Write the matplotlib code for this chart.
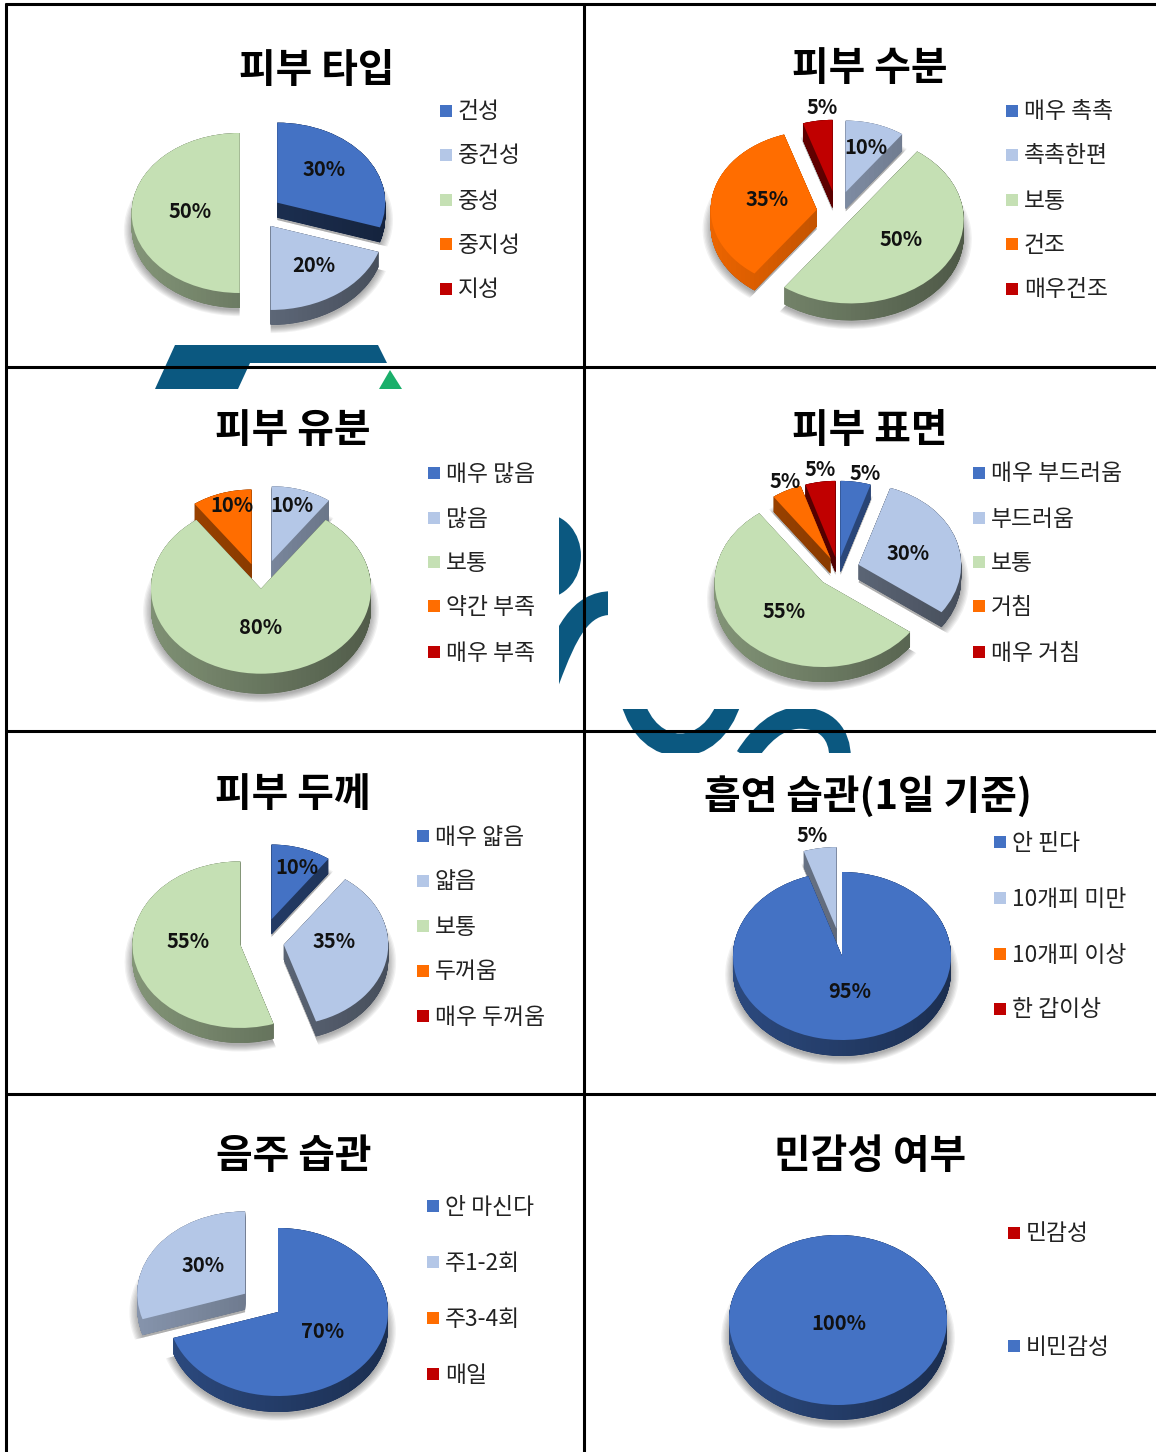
import matplotlib
matplotlib.use('Agg')
import matplotlib.pyplot as plt
import numpy as np
from matplotlib.colors import to_rgb
from matplotlib.patches import Ellipse, PathPatch, Polygon, Rectangle
from matplotlib.path import Path

plt.rcParams['font.family'] = ['Noto Sans CJK KR', 'DejaVu Sans']

W, H = 1156, 1452

BLUE = '#4472C4'
LIGHT = '#B4C7E7'
GREEN = '#C5E0B4'
ORANGE = '#FF6D00'
RED = '#C00000'
TEAL = '#0B5880'

type_labels = ['건성', '중건성', '중성', '중지성', '지성']
type_values = [30, 20, 50, 0, 0]

water_labels = ['매우 촉촉', '촉촉한편', '보통', '건조', '매우건조']
water_values = [0, 10, 50, 35, 5]

oil_labels = ['매우 많음', '많음', '보통', '약간 부족', '매우 부족']
oil_values = [0, 10, 80, 10, 0]

surface_labels = ['매우 부드러움', '부드러움', '보통', '거침', '매우 거침']
surface_values = [5, 30, 55, 5, 5]

thick_labels = ['매우 얇음', '얇음', '보통', '두꺼움', '매우 두꺼움']
thick_values = [10, 35, 55, 0, 0]

smoke_labels = ['안 핀다', '10개피 미만', '10개피 이상', '한 갑이상']
smoke_values = [95, 5, 0, 0]

drink_labels = ['안 마신다', '주1-2회', '주3-4회', '매일']
drink_values = [70, 30, 0, 0]

sensitive_labels = ['민감성', '비민감성']
sensitive_values = [0, 100]

five_colors = [BLUE, LIGHT, GREEN, ORANGE, RED]
four_colors = [BLUE, LIGHT, ORANGE, RED]
sens_colors = [RED, BLUE]

# title, labels, values, colours, pie box (cx, cy, rx, ry, depth), explode, radius,
# wall gain, title pos, legend marker x, legend ys, value label positions
panels = [
    ('피부 타입', type_labels, type_values, five_colors,
     (258, 213, 108, 80, 15), [.22, .2, .17, 0, 0], [1, 1.05, 1, 1, 1], [.8, 1, 1, 1, 1],
     (317, 68), 446, [110, 154, 199, 243, 288],
     [(324, 170), (314, 266), (190, 211)]),
    ('피부 수분', water_labels, water_values, five_colors,
     (837, 212, 113, 84, 17), [0, .25, .15, .18, .25], [1, .85, 1, .94, .85], [1, 1.35, 1, 1.4, .9],
     (870, 66), 1012, [110, 154, 199, 243, 288],
     [(866, 148), (901, 240), (767, 199), (822, 107)]),
    ('피부 유분', oil_labels, oil_values, five_colors,
     (261, 587, 110, 85, 20), [0, .32, .02, .28, 0], [1, .88, 1, .88, 1], [1, 1.3, 1, 1, 1],
     (293, 428), 434, [472, 517, 561, 605, 651],
     [(292, 506), (261, 627), (232, 506)]),
    ('피부 표면', surface_labels, surface_values, five_colors,
     (838, 570, 108, 85, 15), [.15, .2, .2, .15, .15], [.9, .95, 1, .9, .9], [1.2, 1, 1, 1, .8],
     (870, 428), 979, [472, 517, 561, 605, 651],
     [(865, 474), (908, 554), (784, 611), (785, 482), (820, 469)]),
    ('피부 두께', thick_labels, thick_values, five_colors,
     (262, 942, 110, 85, 15), [.28, .2, .2, 0, 0], [.88, .95, .98, 1, 1], [1, 1, 1, 1, 1],
     (293, 791), 423, [835, 880, 925, 970, 1015],
     [(297, 868), (334, 941), (188, 941)]),
    ('흡연 습관(1일 기준)', smoke_labels, smoke_values, four_colors,
     (842, 956, 109, 84, 16), [0, .33, 0, 0], [1, .97, 1, 1], [1, 1, 1, 1],
     (868, 794), 1000, [841, 897, 953, 1008],
     [(850, 991), (812, 835)]),
    ('음주 습관', drink_labels, drink_values, four_colors,
     (278, 1312, 110, 84, 16), [0, .37, 0, 0], [1, .98, 1, 1], [1, 1.1, 1, 1],
     (294, 1154), 433, [1205, 1261, 1317, 1373],
     [(323, 1331), (203, 1266)]),
    ('민감성 여부', sensitive_labels, sensitive_values, sens_colors,
     (838, 1320, 109, 85, 15), [0, 0], [1, 1], [1, 1],
     (870, 1154), 1014, [1232, 1345],
     [(839, 1323)]),
]

C4 = Path.CURVE4
strokes = [
    (Path([(632, 700), (648, 760), (712, 760), (730, 700)], [Path.MOVETO, C4, C4, C4]), 16.5, (600, 709, 150, 44)),
    (Path([(746, 757), (760, 735), (778, 718), (800, 718), (827, 718), (840, 735), (840, 757)],
          [Path.MOVETO, C4, C4, C4, C4, C4, C4]), 15.5, (730, 709, 125, 44)),
    (Path([(548, 680), (566, 632), (580, 603), (612, 603)], [Path.MOVETO, C4, C4, C4]), 17, (559, 580, 49, 105)),
]


def draw_pie(fig, box, values, colors, explode, radii, gains):
    cx, cy, rx, ry, depth = box
    span = 1.7
    ax = fig.add_axes([(cx - span * rx) / W, 1 - (cy + span * ry) / H,
                       2 * span * rx / W, 2 * span * ry / H], zorder=2)
    keep = [i for i, v in enumerate(values) if v > 0]
    vals = [values[i] for i in keep]
    cols = [colors[i] for i in keep]
    expl = [explode[i] for i in keep]
    rads = [radii[i] for i in keep]
    gain = [gains[i] for i in keep]

    # back slices go first so the front ones cover their walls
    edges = np.cumsum([0] + vals) / sum(vals) * 2 * np.pi
    mids = (edges[:-1] + edges[1:]) / 2
    order = np.argsort(np.argsort(-np.cos(mids)))

    z_depth = depth / ry
    # soft shadow
    for k in range(7):
        wedges, _ = ax.pie(vals, explode=expl, colors=['#000000'] * len(vals),
                           startangle=90, counterclock=False,
                           center=(0, -z_depth - .03),
                           wedgeprops={'alpha': .05, 'linewidth': 0})
        for i, w in enumerate(wedges):
            w.set_radius(rads[i] + .012 * k)
            w.set_zorder(1)

    walls = [[] for _ in vals]
    for z in np.linspace(z_depth, 0, int(depth * 2)):
        wedges, _ = ax.pie(vals, explode=expl, startangle=90, counterclock=False,
                           colors=[tuple(.5 * c for c in to_rgb(col)) for col in cols],
                           center=(0, -z), wedgeprops={'linewidth': 0})
        for i, w in enumerate(wedges):
            w.set_radius(rads[i])
            w.set_zorder(3 + order[i])
            walls[i].append(w.get_path())

    # wall shading runs from light on the left to dark on the right
    for i, col in enumerate(cols):
        shade = np.linspace(.68, .38, 64)[None, :, None] * np.array(to_rgb(col))[None, None, :]
        im = ax.imshow(np.clip(shade * gain[i], 0, 1), extent=(-1.3, 1.3, -2, 2), aspect='auto',
                       zorder=3 + order[i] + .4)
        im.set_clip_path(Path.make_compound_path(*walls[i]), ax.transData)

    tops, _ = ax.pie(vals, explode=expl, colors=cols, startangle=90, counterclock=False,
                     wedgeprops={'linewidth': 0})
    for i, w in enumerate(tops):
        w.set_radius(rads[i])
        w.set_zorder(3 + order[i] + .7)

    ax.set_aspect('auto')
    ax.set_xlim(-span, span)
    ax.set_ylim(-span, span)
    ax.patch.set_visible(False)


fig = plt.figure(figsize=(W / 100, H / 100), dpi=100)

back = fig.add_axes([0, 0, 1, 1], zorder=1)
back.set_xlim(0, W)
back.set_ylim(H, 0)
back.axis('off')

# bits of a logo that show through behind the pasted charts
back.add_patch(Polygon([(175, 345), (378, 345), (387, 363), (250, 363), (238, 389), (155, 389)],
                       closed=True, facecolor=TEAL, edgecolor='none'))
back.add_patch(Polygon([(390, 370), (402, 389), (379, 389)], closed=True,
                       facecolor='#1AAF6A', edgecolor='none'))
blob = Ellipse((545, 556), 72, 84, facecolor=TEAL, edgecolor='none')
back.add_patch(blob)
blob.set_clip_path(Rectangle((559, 500), 40, 110, transform=back.transData))
for path, lw, clip in strokes:
    patch = PathPatch(path, facecolor='none', edgecolor=TEAL, lw=lw, capstyle='butt')
    back.add_patch(patch)
    patch.set_clip_path(Rectangle(clip[:2], clip[2], clip[3], transform=back.transData))

for title, labels, values, colors, box, explode, radii, gains, title_xy, mark_x, legend_y, value_xy in panels:
    draw_pie(fig, box, values, colors, explode, radii, gains)

over = fig.add_axes([0, 0, 1, 1], zorder=5)
over.set_xlim(0, W)
over.set_ylim(H, 0)
over.axis('off')
over.patch.set_visible(False)

for x in [6, 584]:
    over.plot([x, x], [3, H], color='black', lw=2.2, solid_capstyle='butt')
for y in [4, 367, 731, 1094]:
    over.plot([5, W], [y, y], color='black', lw=2.2, solid_capstyle='butt')

for title, labels, values, colors, box, explode, radii, gains, title_xy, mark_x, legend_y, value_xy in panels:
    over.text(title_xy[0], title_xy[1] + 3, title, fontsize=28.7, fontweight='bold',
              ha='center', va='center', color='black')
    for lab, col, y in zip(labels, colors, legend_y):
        over.plot(mark_x, y + 1, 's', color=col, ms=8, mew=0)
        over.text(mark_x + 12, y + 2, lab, fontsize=16.4, ha='left', va='center', color='#222222')
    shown = [v for v in values if v > 0]
    for v, (x, y) in zip(shown, value_xy):
        over.text(x, y, f'{v}%', fontsize=14.5, fontweight='bold', ha='center', va='center',
                  color='#111111')

fig.savefig('out.png', dpi=100)
